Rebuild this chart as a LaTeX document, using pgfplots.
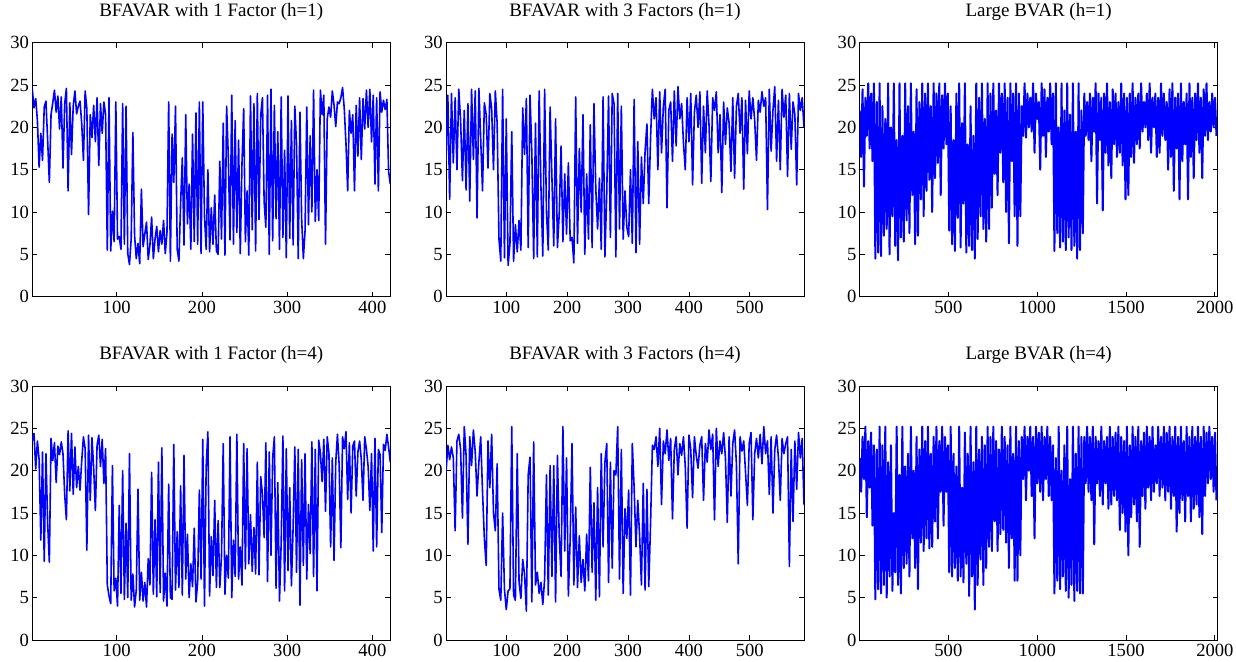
\documentclass[border=0pt]{standalone}
\usepackage{fontspec}
\setmainfont{Liberation Serif}
\usepackage{pgfplots}
\usepackage{pgfplotstable}
\pgfplotsset{compat=1.18}

\pgfplotstableread[header=false,row sep=\\]{
24.5\\ 22.3\\ 23.4\\ 20.8\\ 15.3\\ 19.3\\ 16.1\\ 22.4\\ 23.1\\ 18.5\\
13.5\\ 21.5\\ 22.9\\ 24.4\\ 21.8\\ 23.7\\ 19.8\\ 23.6\\ 15.2\\ 22.8\\
24.6\\ 12.5\\ 22.9\\ 16.8\\ 22.5\\ 24.3\\ 21.6\\ 22.5\\ 23.1\\ 20.4\\
16.1\\ 24.3\\ 22.2\\ 9.7\\ 21.5\\ 18.8\\ 22.6\\ 18.3\\ 23.5\\ 15.5\\
22.8\\ 19.3\\ 23.0\\ 21.5\\ 5.5\\ 23.5\\ 5.4\\ 10.1\\ 6.5\\ 23.0\\
6.8\\ 7.1\\ 5.6\\ 22.8\\ 6.2\\ 22.5\\ 5.1\\ 3.8\\ 6.8\\ 19.4\\
7.2\\ 4.5\\ 6.3\\ 3.9\\ 12.7\\ 5.9\\ 7.4\\ 8.8\\ 4.4\\ 6.1\\
9.4\\ 4.5\\ 6.8\\ 8.3\\ 5.3\\ 7.8\\ 6.2\\ 9.0\\ 5.1\\ 7.6\\
23.0\\ 4.2\\ 19.2\\ 13.5\\ 22.5\\ 5.6\\ 4.2\\ 11.0\\ 16.4\\ 6.1\\
21.5\\ 8.6\\ 13.3\\ 5.6\\ 19.2\\ 6.5\\ 21.7\\ 6.2\\ 23.0\\ 5.1\\
23.0\\ 9.5\\ 5.6\\ 15.0\\ 5.3\\ 10.5\\ 6.2\\ 12.0\\ 5.4\\ 5.0\\
16.0\\ 6.8\\ 20.5\\ 4.9\\ 22.5\\ 16.3\\ 6.7\\ 23.8\\ 6.2\\ 20.8\\
7.6\\ 18.5\\ 5.1\\ 15.7\\ 22.2\\ 6.5\\ 12.5\\ 4.9\\ 23.7\\ 7.9\\
22.8\\ 5.4\\ 24.0\\ 9.1\\ 21.5\\ 23.5\\ 11.2\\ 8.2\\ 23.8\\ 5.0\\
24.5\\ 6.6\\ 22.6\\ 9.2\\ 19.5\\ 5.6\\ 23.6\\ 7.0\\ 17.3\\ 4.6\\
23.7\\ 6.9\\ 20.8\\ 6.1\\ 22.5\\ 18.0\\ 4.5\\ 21.8\\ 9.2\\ 4.5\\
7.8\\ 22.4\\ 8.5\\ 19.0\\ 10.0\\ 24.4\\ 8.9\\ 15.0\\ 9.0\\ 24.4\\
21.5\\ 23.8\\ 6.2\\ 21.0\\ 22.4\\ 21.2\\ 24.3\\ 22.6\\ 20.1\\ 23.0\\
22.8\\ 23.5\\ 24.7\\ 22.2\\ 18.1\\ 12.5\\ 22.0\\ 19.3\\ 21.5\\ 12.5\\
22.6\\ 16.6\\ 23.5\\ 16.2\\ 23.4\\ 19.8\\ 24.4\\ 20.0\\ 24.5\\ 18.3\\
23.8\\ 13.3\\ 23.5\\ 12.5\\ 24.2\\ 21.8\\ 23.2\\ 22.1\\ 23.3\\ 14.8\\
13.3\\
}\dataA

\pgfplotstableread[header=false,row sep=\\]{
16.0\\ 23.8\\ 11.5\\ 24.0\\ 15.8\\ 23.5\\ 15.0\\ 24.5\\ 20.8\\ 13.7\\
22.0\\ 12.6\\ 22.8\\ 11.3\\ 24.5\\ 16.2\\ 24.3\\ 9.3\\ 24.6\\ 18.6\\
12.5\\ 22.9\\ 21.5\\ 15.2\\ 24.0\\ 22.2\\ 15.0\\ 24.3\\ 20.5\\ 6.8\\
4.2\\ 24.5\\ 4.6\\ 21.0\\ 3.7\\ 6.2\\ 19.5\\ 4.2\\ 8.5\\ 5.3\\
9.0\\ 5.5\\ 22.3\\ 16.8\\ 23.4\\ 5.8\\ 23.8\\ 17.0\\ 4.5\\ 20.5\\
4.7\\ 24.3\\ 12.8\\ 4.8\\ 24.5\\ 10.0\\ 5.5\\ 22.4\\ 14.0\\ 6.0\\
21.0\\ 5.8\\ 9.8\\ 17.8\\ 6.5\\ 14.5\\ 7.4\\ 15.8\\ 6.6\\ 7.0\\
4.0\\ 23.6\\ 6.3\\ 17.5\\ 10.0\\ 21.5\\ 5.0\\ 14.5\\ 6.8\\ 20.3\\
5.8\\ 22.8\\ 12.8\\ 8.0\\ 14.0\\ 5.6\\ 23.6\\ 4.7\\ 12.2\\ 23.7\\
7.0\\ 24.0\\ 22.8\\ 4.7\\ 24.0\\ 8.0\\ 22.5\\ 6.8\\ 12.5\\ 8.2\\
7.1\\ 15.0\\ 6.3\\ 23.3\\ 5.2\\ 18.3\\ 6.2\\ 16.5\\ 11.0\\ 17.2\\
20.4\\ 11.0\\ 18.8\\ 24.5\\ 21.0\\ 23.5\\ 15.0\\ 24.2\\ 17.0\\ 22.5\\
24.5\\ 10.5\\ 22.0\\ 23.0\\ 16.0\\ 24.3\\ 17.8\\ 24.8\\ 21.0\\ 22.8\\
18.2\\ 15.0\\ 23.5\\ 18.3\\ 24.0\\ 13.2\\ 21.8\\ 23.8\\ 20.0\\ 24.2\\
13.4\\ 22.5\\ 17.0\\ 24.3\\ 20.3\\ 13.6\\ 23.5\\ 22.0\\ 24.2\\ 17.0\\
21.5\\ 12.3\\ 23.0\\ 18.0\\ 22.3\\ 20.5\\ 14.8\\ 23.5\\ 14.0\\ 22.5\\
24.0\\ 19.3\\ 23.5\\ 12.7\\ 23.2\\ 16.9\\ 24.3\\ 21.0\\ 23.5\\ 20.8\\
16.1\\ 23.2\\ 21.8\\ 24.2\\ 22.5\\ 23.5\\ 10.3\\ 24.5\\ 17.2\\ 22.0\\
24.8\\ 16.0\\ 23.2\\ 15.0\\ 24.5\\ 21.2\\ 23.8\\ 14.2\\ 24.0\\ 17.4\\
23.0\\ 21.5\\ 13.2\\ 24.0\\ 22.0\\ 23.5\\ 20.0\\
}\dataB

\pgfplotstableread[header=false,row sep=\\]{
22.0\\ 16.5\\ 24.5\\ 13.0\\ 23.5\\ 19.0\\ 25.2\\ 17.5\\ 24.0\\ 16.0\\
25.2\\ 4.5\\ 23.0\\ 5.2\\ 25.2\\ 4.8\\ 22.5\\ 7.2\\ 21.0\\ 8.0\\
25.2\\ 5.0\\ 20.0\\ 9.5\\ 25.2\\ 6.0\\ 18.5\\ 4.3\\ 25.2\\ 7.0\\
19.0\\ 6.5\\ 25.2\\ 9.0\\ 22.5\\ 7.5\\ 25.2\\ 12.0\\ 19.5\\ 6.2\\
24.5\\ 7.2\\ 23.0\\ 11.5\\ 25.2\\ 9.5\\ 24.0\\ 12.5\\ 25.2\\ 13.8\\
22.5\\ 10.0\\ 25.2\\ 14.0\\ 24.0\\ 15.8\\ 25.2\\ 12.0\\ 23.8\\ 17.5\\
25.2\\ 18.0\\ 24.0\\ 7.8\\ 22.5\\ 6.2\\ 18.5\\ 5.4\\ 24.0\\ 9.3\\
25.2\\ 5.8\\ 20.5\\ 11.0\\ 25.2\\ 5.2\\ 18.0\\ 6.0\\ 22.5\\ 5.5\\
19.0\\ 4.5\\ 25.2\\ 6.8\\ 23.5\\ 9.5\\ 25.2\\ 8.0\\ 21.0\\ 6.5\\
25.2\\ 8.0\\ 24.0\\ 10.5\\ 25.2\\ 14.5\\ 22.0\\ 12.0\\ 25.2\\ 17.0\\
24.0\\ 13.5\\ 25.2\\ 10.0\\ 23.5\\ 6.3\\ 25.2\\ 16.0\\ 24.0\\ 9.5\\
25.2\\ 6.0\\ 24.0\\ 9.5\\ 22.5\\ 19.0\\ 25.2\\ 18.8\\ 24.0\\ 20.0\\
23.5\\ 19.5\\ 25.2\\ 17.0\\ 24.0\\ 21.0\\ 23.0\\ 15.0\\ 25.2\\ 19.0\\
24.5\\ 16.5\\ 23.5\\ 19.5\\ 25.2\\ 18.0\\ 24.0\\ 5.4\\ 25.2\\ 7.5\\
20.0\\ 5.8\\ 25.2\\ 6.5\\ 22.0\\ 5.5\\ 25.2\\ 7.0\\ 21.5\\ 5.5\\
25.2\\ 6.0\\ 19.5\\ 4.5\\ 25.2\\ 5.5\\ 22.0\\ 7.5\\ 24.0\\ 19.0\\
23.0\\ 18.5\\ 24.0\\ 16.0\\ 23.5\\ 19.5\\ 25.2\\ 11.0\\ 24.0\\ 18.5\\
23.5\\ 10.2\\ 24.0\\ 17.0\\ 25.2\\ 15.5\\ 23.0\\ 14.0\\ 24.5\\ 18.0\\
24.0\\ 16.5\\ 23.0\\ 17.0\\ 25.2\\ 15.5\\ 24.0\\ 11.5\\ 23.5\\ 12.0\\
24.0\\ 16.5\\ 25.2\\ 15.8\\ 23.5\\ 18.0\\ 24.0\\ 17.5\\ 25.2\\ 19.5\\
23.0\\ 20.0\\ 24.0\\ 18.5\\ 25.2\\ 17.0\\ 23.5\\ 20.0\\ 24.0\\ 16.5\\
23.5\\ 17.0\\ 25.2\\ 19.0\\ 24.0\\ 18.5\\ 23.0\\ 15.0\\ 24.5\\ 16.5\\
25.2\\ 12.5\\ 23.5\\ 17.5\\ 24.0\\ 11.5\\ 25.2\\ 16.0\\ 23.0\\ 18.0\\
24.0\\ 11.5\\ 25.2\\ 16.5\\ 23.5\\ 14.0\\ 24.0\\ 18.5\\ 25.2\\ 17.0\\
23.5\\ 14.0\\ 24.5\\ 19.0\\ 25.2\\ 18.5\\ 23.0\\ 19.5\\ 24.0\\ 20.0\\
23.5\\ 19.0\\
}\dataC

\pgfplotstableread[header=false,row sep=\\]{
23.5\\ 24.4\\ 20.2\\ 23.5\\ 21.3\\ 11.8\\ 22.2\\ 9.3\\ 22.0\\ 13.8\\
9.2\\ 23.8\\ 21.2\\ 23.3\\ 18.6\\ 22.9\\ 21.9\\ 23.4\\ 22.0\\ 17.2\\
14.2\\ 24.7\\ 17.6\\ 24.4\\ 17.2\\ 22.8\\ 18.0\\ 20.5\\ 17.7\\ 21.2\\
24.0\\ 22.6\\ 10.6\\ 24.2\\ 16.5\\ 23.9\\ 20.3\\ 15.3\\ 23.0\\ 24.2\\
20.5\\ 23.7\\ 18.5\\ 22.6\\ 6.5\\ 5.2\\ 4.3\\ 20.6\\ 5.8\\ 7.3\\
4.0\\ 15.9\\ 5.5\\ 20.0\\ 4.8\\ 13.8\\ 5.0\\ 22.0\\ 4.7\\ 7.8\\
3.9\\ 5.9\\ 17.8\\ 4.7\\ 8.0\\ 4.6\\ 6.8\\ 3.9\\ 9.6\\ 6.5\\
19.8\\ 5.4\\ 14.2\\ 5.1\\ 21.0\\ 5.6\\ 22.7\\ 4.6\\ 7.9\\ 4.0\\
18.4\\ 5.0\\ 4.8\\ 23.1\\ 5.9\\ 12.8\\ 6.2\\ 18.2\\ 5.3\\ 21.8\\
7.2\\ 12.5\\ 5.0\\ 9.0\\ 6.3\\ 13.2\\ 4.5\\ 6.8\\ 17.7\\ 7.2\\
23.7\\ 4.0\\ 20.5\\ 24.6\\ 5.2\\ 12.2\\ 7.6\\ 16.5\\ 6.2\\ 14.1\\
6.2\\ 10.0\\ 23.2\\ 5.4\\ 10.0\\ 7.3\\ 24.0\\ 5.0\\ 11.8\\ 7.5\\
24.3\\ 7.2\\ 11.0\\ 6.5\\ 23.2\\ 8.4\\ 22.6\\ 9.0\\ 14.8\\ 8.1\\
13.3\\ 7.8\\ 21.0\\ 7.7\\ 19.3\\ 17.2\\ 12.1\\ 23.3\\ 6.9\\ 22.2\\
10.0\\ 21.5\\ 24.0\\ 6.1\\ 18.6\\ 4.6\\ 11.5\\ 24.1\\ 5.8\\ 22.6\\
8.2\\ 18.0\\ 6.4\\ 13.3\\ 22.8\\ 8.0\\ 22.5\\ 4.1\\ 21.3\\ 8.8\\
22.0\\ 7.2\\ 16.0\\ 10.2\\ 23.4\\ 7.5\\ 22.5\\ 5.8\\ 23.6\\ 22.1\\
18.7\\ 23.7\\ 15.2\\ 24.0\\ 22.1\\ 11.0\\ 21.5\\ 9.4\\ 21.0\\ 24.3\\
20.7\\ 10.9\\ 24.0\\ 22.6\\ 24.6\\ 16.6\\ 23.3\\ 15.0\\ 22.9\\ 23.5\\
17.0\\ 22.2\\ 23.5\\ 21.3\\ 16.5\\ 24.0\\ 22.5\\ 20.5\\ 15.3\\ 22.0\\
10.5\\ 23.8\\ 11.0\\ 22.5\\ 21.9\\ 12.7\\ 23.1\\ 22.4\\ 24.3\\ 22.8\\
21.0\\
}\dataD

\pgfplotstableread[header=false,row sep=\\]{
19.8\\ 23.0\\ 21.3\\ 22.8\\ 21.5\\ 12.9\\ 23.5\\ 24.3\\ 22.5\\ 14.4\\
25.2\\ 21.8\\ 11.3\\ 24.0\\ 20.6\\ 24.8\\ 22.2\\ 17.0\\ 21.0\\ 24.0\\
17.5\\ 12.0\\ 8.8\\ 23.5\\ 18.0\\ 24.3\\ 15.0\\ 12.9\\ 20.8\\ 6.0\\
4.7\\ 15.0\\ 6.0\\ 3.6\\ 5.8\\ 6.0\\ 25.2\\ 5.3\\ 4.7\\ 22.0\\
6.8\\ 4.9\\ 9.5\\ 7.8\\ 3.4\\ 19.5\\ 21.6\\ 4.5\\ 23.4\\ 6.5\\
8.0\\ 5.5\\ 6.8\\ 4.2\\ 7.2\\ 19.5\\ 5.3\\ 20.6\\ 7.5\\ 20.6\\
4.5\\ 21.8\\ 12.2\\ 7.5\\ 25.2\\ 10.5\\ 21.5\\ 5.2\\ 12.0\\ 23.2\\
6.5\\ 15.7\\ 6.2\\ 12.3\\ 6.8\\ 9.5\\ 5.8\\ 12.5\\ 7.0\\ 20.4\\
8.0\\ 16.2\\ 4.7\\ 18.0\\ 5.1\\ 22.0\\ 11.0\\ 21.0\\ 23.2\\ 6.8\\
21.0\\ 8.5\\ 20.0\\ 19.5\\ 25.2\\ 7.2\\ 22.5\\ 5.5\\ 15.5\\ 12.0\\
17.7\\ 5.3\\ 23.2\\ 18.0\\ 11.0\\ 16.5\\ 12.3\\ 6.5\\ 18.5\\ 5.9\\
17.8\\ 6.3\\ 13.8\\ 23.0\\ 22.5\\ 24.0\\ 20.5\\ 25.0\\ 16.0\\ 23.5\\
22.0\\ 24.8\\ 21.2\\ 23.8\\ 14.3\\ 22.5\\ 24.0\\ 19.5\\ 23.2\\ 21.8\\
24.0\\ 20.5\\ 13.2\\ 24.2\\ 22.5\\ 16.8\\ 24.0\\ 21.8\\ 20.3\\ 23.0\\
24.0\\ 16.5\\ 23.2\\ 21.0\\ 24.8\\ 22.5\\ 24.3\\ 14.2\\ 25.0\\ 20.5\\
23.5\\ 22.0\\ 24.5\\ 21.5\\ 13.9\\ 24.0\\ 17.0\\ 23.2\\ 24.8\\ 20.8\\
9.0\\ 24.0\\ 22.3\\ 23.5\\ 19.8\\ 15.9\\ 23.2\\ 24.5\\ 14.2\\ 22.0\\
23.8\\ 21.5\\ 24.3\\ 20.8\\ 25.2\\ 22.0\\ 23.5\\ 17.2\\ 24.0\\ 15.0\\
22.5\\ 24.2\\ 21.5\\ 16.5\\ 23.8\\ 22.0\\ 23.2\\ 24.0\\ 8.7\\ 22.5\\
14.0\\ 23.5\\ 17.8\\ 24.5\\ 21.5\\ 23.8\\ 16.0\\
}\dataE

\pgfplotstableread[header=false,row sep=\\]{
21.5\\ 17.5\\ 24.0\\ 19.0\\ 25.2\\ 14.5\\ 23.5\\ 18.0\\ 24.5\\ 13.5\\
23.0\\ 4.8\\ 22.5\\ 6.0\\ 25.2\\ 5.5\\ 23.0\\ 6.5\\ 25.2\\ 5.0\\
21.0\\ 7.5\\ 23.0\\ 5.8\\ 15.0\\ 8.0\\ 25.2\\ 6.5\\ 19.5\\ 5.5\\
25.2\\ 8.5\\ 20.5\\ 9.0\\ 22.0\\ 7.5\\ 25.2\\ 12.0\\ 20.0\\ 8.5\\
24.0\\ 6.0\\ 22.5\\ 11.5\\ 25.2\\ 10.5\\ 23.5\\ 12.0\\ 25.2\\ 10.8\\
22.0\\ 11.0\\ 24.0\\ 14.0\\ 25.2\\ 12.0\\ 23.5\\ 17.5\\ 25.2\\ 13.5\\
24.0\\ 17.5\\ 23.0\\ 8.0\\ 25.2\\ 7.5\\ 22.0\\ 8.5\\ 20.5\\ 7.0\\
25.2\\ 7.5\\ 18.0\\ 6.8\\ 24.5\\ 9.0\\ 22.0\\ 5.2\\ 25.2\\ 7.5\\
21.0\\ 3.6\\ 25.2\\ 6.5\\ 22.5\\ 9.5\\ 24.0\\ 6.5\\ 23.0\\ 8.5\\
25.2\\ 11.0\\ 24.0\\ 10.5\\ 25.2\\ 14.0\\ 23.5\\ 10.5\\ 22.5\\ 12.5\\
25.2\\ 13.0\\ 24.0\\ 11.5\\ 23.0\\ 8.5\\ 25.2\\ 12.0\\ 22.0\\ 7.0\\
25.2\\ 7.0\\ 23.5\\ 10.0\\ 24.0\\ 19.0\\ 25.2\\ 16.5\\ 24.0\\ 20.0\\
25.2\\ 17.0\\ 24.0\\ 12.0\\ 25.2\\ 18.5\\ 24.5\\ 17.5\\ 25.2\\ 16.5\\
24.0\\ 19.0\\ 25.2\\ 17.0\\ 24.0\\ 16.5\\ 23.0\\ 5.5\\ 21.5\\ 7.0\\
25.2\\ 6.0\\ 20.0\\ 7.5\\ 23.0\\ 5.8\\ 25.2\\ 5.0\\ 19.0\\ 6.5\\
25.2\\ 4.6\\ 22.0\\ 5.8\\ 25.2\\ 5.5\\ 24.0\\ 5.5\\ 24.0\\ 18.5\\
25.2\\ 17.5\\ 24.0\\ 16.5\\ 25.2\\ 11.3\\ 24.0\\ 18.5\\ 23.5\\ 17.0\\
25.2\\ 16.0\\ 23.5\\ 18.5\\ 24.0\\ 15.5\\ 25.2\\ 16.0\\ 24.0\\ 17.0\\
24.5\\ 16.5\\ 25.2\\ 13.0\\ 24.0\\ 15.0\\ 23.5\\ 12.8\\ 25.2\\ 10.0\\
23.0\\ 14.5\\ 25.2\\ 16.0\\ 24.0\\ 14.0\\ 25.2\\ 11.0\\ 23.5\\ 17.0\\
24.5\\ 15.5\\ 25.2\\ 18.0\\ 24.0\\ 16.5\\ 25.2\\ 17.5\\ 23.0\\ 18.5\\
25.2\\ 17.0\\ 24.0\\ 18.0\\ 25.2\\ 16.5\\ 24.5\\ 17.5\\ 25.2\\ 15.5\\
24.0\\ 17.0\\ 25.2\\ 12.8\\ 24.0\\ 15.0\\ 25.2\\ 16.5\\ 23.5\\ 14.0\\
25.2\\ 17.0\\ 24.0\\ 14.0\\ 25.2\\ 15.5\\ 24.0\\ 16.0\\ 25.2\\ 14.5\\
24.0\\ 12.5\\ 25.2\\ 17.0\\ 24.5\\ 18.5\\ 25.2\\ 19.0\\ 24.0\\ 17.5\\
24.5\\ 16.5\\
}\dataF

\pgfplotsset{
  panel/.style={
    scale only axis, width=179bp, height=127bp, anchor=south west,
    ymin=0, ymax=30, ytick={0,5,10,15,20,25,30},
    xmin=1,
    tick align=inside, major tick length=2.5bp,
    axis line style={line width=0.5bp}, every tick/.style={line width=0.4bp, black},
    font=\fontsize{9.3bp}{11bp}\selectfont,
    title style={at={(0.5,1)}, anchor=base, yshift=7.3bp, font=\fontsize{9.5bp}{11bp}\selectfont},
    /pgf/number format/assume math mode=true,
    /pgf/number format/1000 sep={},
    scaled x ticks=false, scaled y ticks=false,
    yticklabel style={inner sep=1.5bp},
    xticklabel style={inner sep=2bp},
  },
  ser/.style={blue, line width=0.8bp, mark=none, line join=round},
  serd/.style={blue, line width=1bp, mark=none, line join=round},
}

\begin{document}
\begin{tikzpicture}
\path[use as bounding box] (0,0) rectangle (618bp,331bp);
\begin{axis}[panel, at={(16.15bp,182.65bp)}, xmax=421, xtick={100,200,300,400},
  title={BFAVAR with 1 Factor (h=1)}]
\addplot[ser] table[x expr=\coordindex*2+1, y index=0] {\dataA};
\end{axis}
\begin{axis}[panel, at={(223bp,182.65bp)}, xmax=589, xtick={100,200,300,400,500},
  title={BFAVAR with 3 Factors (h=1)}]
\addplot[ser] table[x expr=\coordindex*3+1, y index=0] {\dataB};
\end{axis}
\begin{axis}[panel, at={(429.85bp,182.65bp)}, xmax=2016, xtick={500,1000,1500,2000},
  title={Large BVAR (h=1)}]
\addplot[serd] table[x expr=\coordindex*8+1, y index=0] {\dataC};
\end{axis}
\begin{axis}[panel, at={(16.15bp,11bp)}, xmax=421, xtick={100,200,300,400},
  title={BFAVAR with 1 Factor (h=4)}]
\addplot[ser] table[x expr=\coordindex*2+1, y index=0] {\dataD};
\end{axis}
\begin{axis}[panel, at={(223bp,11bp)}, xmax=589, xtick={100,200,300,400,500},
  title={BFAVAR with 3 Factors (h=4)}]
\addplot[ser] table[x expr=\coordindex*3+1, y index=0] {\dataE};
\end{axis}
\begin{axis}[panel, at={(429.85bp,11bp)}, xmax=2016, xtick={500,1000,1500,2000},
  title={Large BVAR (h=4)}]
\addplot[serd] table[x expr=\coordindex*8+1, y index=0] {\dataF};
\end{axis}
\end{tikzpicture}
\end{document}
